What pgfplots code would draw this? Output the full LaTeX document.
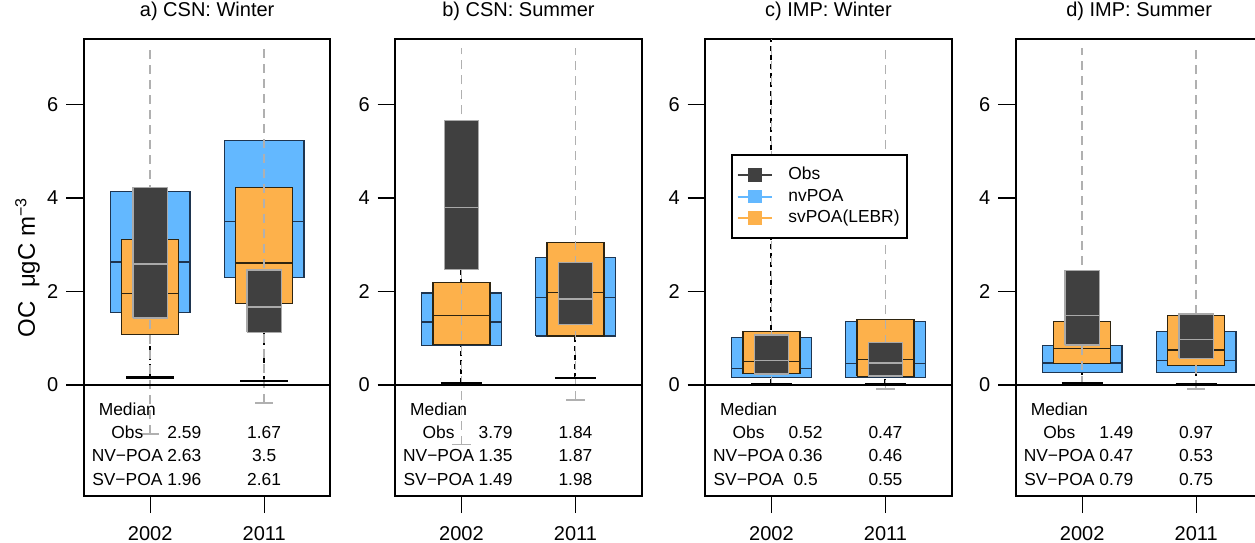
\documentclass[border=0pt]{standalone}
\usepackage{fontspec}
\setmainfont{Liberation Sans}
\usepackage{pgfplots}
\pgfplotsset{compat=1.18}

\definecolor{nvc}{HTML}{63B8FF}
\definecolor{svc}{HTML}{FDB14B}
\definecolor{obc}{HTML}{404040}
\definecolor{obe}{HTML}{A9A9A9}
\definecolor{nve}{HTML}{1E3550}
\definecolor{sve}{HTML}{2E2410}
\definecolor{wg}{HTML}{B0B0B0}

\tikzset{
  nvs/.style={fill=nvc, draw=nve, line width=0.6pt},
  svs/.style={fill=svc, draw=sve, line width=0.6pt},
  obs/.style={fill=obc, draw=obe, line width=0.7pt},
  nvm/.style={draw=nve, line width=0.6pt},
  svm/.style={draw=sve, line width=0.6pt},
  obm/.style={draw=obe, line width=0.7pt},
}

\newcommand\bx[5]{\addplot[#1, forget plot] coordinates {(#2,#4) (#3,#4) (#3,#5) (#2,#5) (#2,#4)};}
\newcommand\hl[4]{\addplot[#1, forget plot] coordinates {(#2,#4) (#3,#4)};}
\newcommand\gw[3]{\addplot[draw=wg, line width=0.7pt, dash pattern=on 4.5pt off 3pt, forget plot] coordinates {(#1,#2) (#1,#3)};}
\newcommand\bw[3]{\addplot[draw=black, line width=1pt, dash pattern=on 2.5pt off 2pt, forget plot] coordinates {(#1,#2) (#1,#3)};}
\newcommand\gcap[3]{\addplot[draw=wg, line width=0.8pt, forget plot] coordinates {(#1,#3) (#2,#3)};}
\newcommand\bcap[3]{\addplot[draw=black, line width=1.2pt, forget plot] coordinates {(#1,#3) (#2,#3)};}
\newcommand\zl{\addplot[draw=black, line width=0.6pt, forget plot] coordinates {(0.42,0) (2.58,0)};}
\newcommand\medtab[6]{%
  \node[font=\tabfont, anchor=base] at (axis cs:0.8,-0.65) {Median};
  \node[font=\tabfont, anchor=base] at (axis cs:0.8,-1.14) {Obs};
  \node[font=\tabfont, anchor=base] at (axis cs:0.8,-1.64) {NV−POA};
  \node[font=\tabfont, anchor=base] at (axis cs:0.8,-2.14) {SV−POA};
  \node[font=\tabfont, anchor=base] at (axis cs:1.3,-1.14) {#1};
  \node[font=\tabfont, anchor=base] at (axis cs:1.3,-1.64) {#2};
  \node[font=\tabfont, anchor=base] at (axis cs:1.3,-2.14) {#3};
  \node[font=\tabfont, anchor=base] at (axis cs:2,-1.14) {#4};
  \node[font=\tabfont, anchor=base] at (axis cs:2,-1.64) {#5};
  \node[font=\tabfont, anchor=base] at (axis cs:2,-2.14) {#6};
}
\newcommand\tabfont{\fontsize{8.7}{10}\selectfont}

\pgfplotsset{
  panel/.style={
    scale only axis, width=123.15pt, height=228.1pt,
    xmin=0.42, xmax=2.58, ymin=-2.36, ymax=7.39,
    axis line style={line width=1pt, black},
    xtick={1,2}, xticklabels={2002,2011},
    ytick={0,2,4,6},
    tick align=outside, major tick length=8.8pt,
    tick style={black, line width=0.6pt},
    xtick pos=left, ytick pos=left,
    ticklabel style={font=\fontsize{10}{12}\selectfont},
    xticklabel style={yshift=-3pt},
    yticklabel style={xshift=-0.5pt},
    /pgf/number format/assume math mode=true,
    title style={font=\fontsize{10}{12}\selectfont, at={(0.5,1)}, anchor=base, yshift=5.2pt},
    anchor=south west,
  }
}

\begin{document}
\begin{tikzpicture}
\path[use as bounding box] (0,0) rectangle (627.5pt,271pt);

% ---------------- a) CSN: Winter
\begin{axis}[panel, at={(42pt,23.25pt)}, title={a) CSN: Winter},
  ylabel={OC\ \ μgC m\textsuperscript{−3}},
  ylabel style={font=\fontsize{12}{14}\selectfont, at={(axis description cs:-0.199,0.5)}, anchor=base, rotate=0}]
\bw{1}{0.16}{1.43} \bw{2}{0.09}{1.13}
\bx{nvs}{0.65}{1.35}{1.55}{4.13} \hl{nvm}{0.65}{1.35}{2.63}
\bx{nvs}{1.65}{2.35}{2.30}{5.22} \hl{nvm}{1.65}{2.35}{3.50}
\bx{svs}{0.75}{1.25}{1.08}{3.11} \hl{svm}{0.75}{1.25}{1.96}
\bx{svs}{1.75}{2.25}{1.74}{4.22} \hl{svm}{1.75}{2.25}{2.61}
\gw{1}{-1.05}{7.2} \gw{2}{-0.38}{7.2}
\gcap{0.92}{1.08}{-1.05} \gcap{1.92}{2.08}{-0.38}
\bcap{0.79}{1.21}{0.16} \bcap{1.79}{2.21}{0.09}
\bx{obs}{0.85}{1.15}{1.43}{4.22} \hl{obm}{0.85}{1.15}{2.59}
\bx{obs}{1.85}{2.15}{1.13}{2.46} \hl{obm}{1.85}{2.15}{1.67}
\zl
\medtab{2.59}{2.63}{1.96}{1.67}{3.5}{2.61}
\end{axis}

% ---------------- b) CSN: Summer
\begin{axis}[panel, at={(197.65pt,23.25pt)}, title={b) CSN: Summer}]
\bw{1}{0.04}{2.47} \bw{2}{0.15}{1.30}
\bx{nvs}{0.65}{1.35}{0.84}{1.97} \hl{nvm}{0.65}{1.35}{1.35}
\bx{nvs}{1.65}{2.35}{1.05}{2.73} \hl{nvm}{1.65}{2.35}{1.87}
\bx{svs}{0.75}{1.25}{0.86}{2.19} \hl{svm}{0.75}{1.25}{1.49}
\bx{svs}{1.75}{2.25}{1.05}{3.04} \hl{svm}{1.75}{2.25}{1.98}
\gw{1}{-1.27}{7.2} \gw{2}{-0.32}{7.2}
\gcap{0.92}{1.08}{-1.27} \gcap{1.92}{2.08}{-0.32}
\bcap{0.82}{1.18}{0.04} \bcap{1.82}{2.18}{0.15}
\bx{obs}{0.85}{1.15}{2.47}{5.65} \hl{obm}{0.85}{1.15}{3.79}
\bx{obs}{1.85}{2.15}{1.30}{2.62} \hl{obm}{1.85}{2.15}{1.84}
\zl
\medtab{3.79}{1.35}{1.49}{1.84}{1.87}{1.98}
\end{axis}

% ---------------- c) IMP: Winter
\begin{axis}[panel, at={(352.65pt,23.25pt)}, title={c) IMP: Winter},
  legend style={at={(0.104,0.7475)}, anchor=north west, draw=black, line width=0.8pt, fill=white,
    font=\fontsize{8.7}{10}\selectfont, inner xsep=2.5pt, inner ysep=4.5pt,
    nodes={inner sep=1.25pt, text height=6.5pt, text depth=1.75pt},
    /tikz/every odd column/.append style={column sep=6.6pt}},
  legend cell align=left,
  legend image code/.code={\draw[#1, line width=1pt] (0pt,0pt) -- (17pt,0pt); \fill[#1] (5.5pt,-3pt) rectangle (11.5pt,3pt);}]
\bw{1}{0.02}{9} \bw{2}{0.02}{0.19}
\bx{nvs}{0.65}{1.35}{0.16}{1.02} \hl{nvm}{0.65}{1.35}{0.36}
\bx{nvs}{1.65}{2.35}{0.16}{1.36} \hl{nvm}{1.65}{2.35}{0.46}
\bx{svs}{0.75}{1.25}{0.24}{1.14} \hl{svm}{0.75}{1.25}{0.50}
\bx{svs}{1.75}{2.25}{0.19}{1.41} \hl{svm}{1.75}{2.25}{0.55}
\gw{1}{0.0}{7.5} \gw{2}{-0.09}{7.2}
\gcap{1.92}{2.08}{-0.09}
\bcap{0.82}{1.18}{0.02} \bcap{1.82}{2.18}{0.02}
\bx{obs}{0.85}{1.15}{0.24}{1.07} \hl{obm}{0.85}{1.15}{0.52}
\bx{obs}{1.85}{2.15}{0.19}{0.91} \hl{obm}{1.85}{2.15}{0.47}
\zl
\medtab{0.52}{0.36}{0.5}{0.47}{0.46}{0.55}
\addlegendimage{draw=obc, fill=obc}\addlegendentry{Obs}
\addlegendimage{draw=nvc, fill=nvc}\addlegendentry{nvPOA}
\addlegendimage{draw=svc, fill=svc}\addlegendentry{svPOA(LEBR)}
\end{axis}

% ---------------- d) IMP: Summer
\begin{axis}[panel, at={(508pt,23.25pt)}, title={d) IMP: Summer}]
\bw{1}{0.03}{0.86} \bw{2}{0.01}{0.57}
\bx{nvs}{0.65}{1.35}{0.27}{0.85} \hl{nvm}{0.65}{1.35}{0.47}
\bx{nvs}{1.65}{2.35}{0.27}{1.14} \hl{nvm}{1.65}{2.35}{0.53}
\bx{svs}{0.75}{1.25}{0.46}{1.36} \hl{svm}{0.75}{1.25}{0.79}
\bx{svs}{1.75}{2.25}{0.41}{1.48} \hl{svm}{1.75}{2.25}{0.75}
\gw{1}{0.01}{7.2} \gw{2}{-0.09}{7.2}
\gcap{1.92}{2.08}{-0.09}
\bcap{0.82}{1.18}{0.03} \bcap{1.82}{2.18}{0.01}
\bx{obs}{0.85}{1.15}{0.86}{2.45} \hl{obm}{0.85}{1.15}{1.49}
\bx{obs}{1.85}{2.15}{0.57}{1.52} \hl{obm}{1.85}{2.15}{0.97}
\zl
\medtab{1.49}{0.47}{0.79}{0.97}{0.53}{0.75}
\end{axis}
\end{tikzpicture}
\end{document}
